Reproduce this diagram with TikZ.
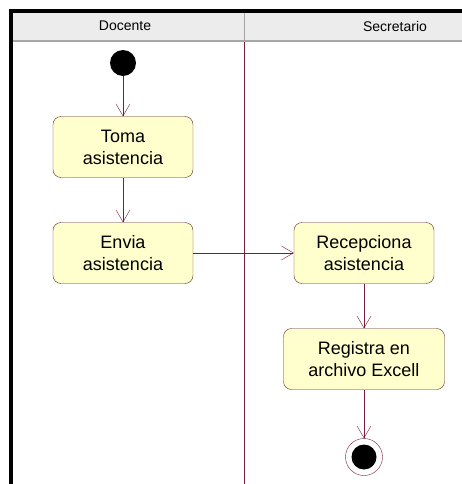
\documentclass[tikz,border=0pt]{standalone}
\usepackage{xcolor}
\usepackage{fontspec}
\setmainfont{Liberation Sans}
\usepackage{tikz}
\usetikzlibrary{positioning, arrows.meta}

\definecolor{linea}{RGB}{120,28,62}
\definecolor{borde}{RGB}{95,40,40}
\definecolor{relleno}{RGB}{255,255,206}
\definecolor{cabecera}{RGB}{236,236,236}

\begin{document}
\begin{tikzpicture}[x=1pt, y=1pt, node distance=2cm, on grid,
    >={Straight Barb[length=12pt, width=14pt]},
    accion/.style={draw=borde, fill=relleno, rounded corners=8pt, align=center,
        minimum width=140pt, minimum height=61pt, font=\fontsize{18}{22}\selectfont},
    inicio/.style={circle, fill=black, minimum size=26pt, inner sep=0pt},
    fin/.style={circle, draw=linea, minimum size=37pt, inner sep=0pt,
        path picture={\fill[black] (path picture bounding box.center) circle (12.5pt);}},
    carril/.style={font=\fontsize{14}{16}\selectfont}]
        \useasboundingbox (0,0) rectangle (462,-484);

        % carriles
        \fill[cabecera] (11,-11) rectangle (462,-40);
        \draw[gray!70, line width=2pt] (11,-41) -- (462,-41);
        \draw[gray!70] (244,-11) -- (244,-40);
        \draw[linea] (244,-42) -- (244,-484);
        \draw[line width=4pt] (11,-484) -- (11,-11) -- (462,-11);
        \node[carril] (doc) at (125,-26) {Docente};
        \node[carril] (sec) at (395,-26) {Secretario};

        \node[inicio] (ini) at (123,-63) {};
        \node[accion] (toma) [below=84pt of ini] {Toma\\asistencia};
        \node[accion] (envia) [below=106pt of toma] {Envia\\asistencia};
        \node[accion] (recep) [right=241pt of envia] {Recepciona\\asistencia};
        \node[accion, minimum width=161pt] (regis) [below=106pt of recep] {Registra en\\archivo Excell};
        \node[fin] (final) [below=98pt of regis] {};

        \path[->, draw=linea]
        (ini) edge (toma)
        (toma) edge (envia)
        (envia) edge (recep)
        (recep) edge (regis)
        (regis) edge (final);

    \end{tikzpicture}
\end{document}
